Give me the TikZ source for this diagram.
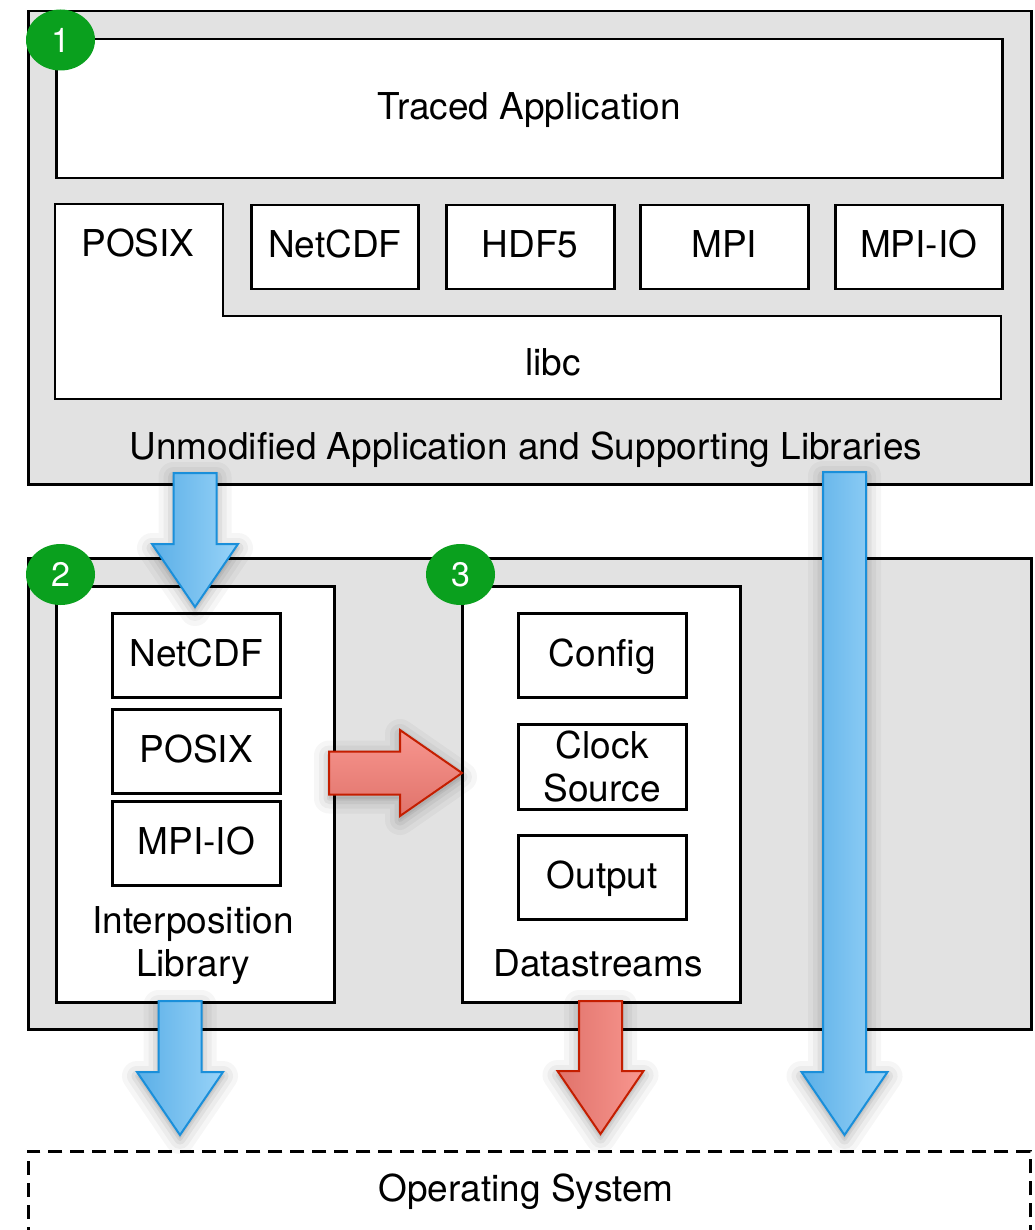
\documentclass[tikz,border=0pt]{standalone}
\usepackage{fontspec}
\setmainfont{TeX Gyre Heros}
\usetikzlibrary{calc,shapes.geometric}

\definecolor{panelgray}{HTML}{E2E2E2}
\definecolor{badgegreen}{HTML}{0AA01E}
\definecolor{blueedge}{HTML}{1A8FDA}
\definecolor{bluedark}{HTML}{5BAFE7}
\definecolor{bluelight}{HTML}{98D3F8}
\definecolor{rededge}{HTML}{C41E00}
\definecolor{reddark}{HTML}{E0736B}
\definecolor{redlight}{HTML}{F8968F}

% fat arrow dimensions: shaft half width, head half width, head length
\def\sh{21.5pt}
\def\hh{43pt}
\def\hl{63pt}

% downward block arrow from coordinate #2 to tip #3
\newcommand\fatdown[3]{%
  \path[#1] let \p1=(#2), \p2=(#3) in
    (\x1-\sh,\y1) -- (\x1+\sh,\y1) -- (\x1+\sh,\y2+\hl) -- (\x1+\hh,\y2+\hl)
    -- (\x1,\y2) -- (\x1-\hh,\y2+\hl) -- (\x1-\sh,\y2+\hl) -- cycle;}
% rightward block arrow from coordinate #2 to tip #3
\newcommand\fatright[3]{%
  \path[#1] let \p1=(#2), \p2=(#3) in
    (\x1,\y1+\sh) -- (\x2-\hl+1pt,\y1+\sh) -- (\x2-\hl+1pt,\y1+\hh) -- (\x2,\y1)
    -- (\x2-\hl+1pt,\y1-\hh) -- (\x2-\hl+1pt,\y1-\sh) -- (\x1,\y1-\sh) -- cycle;}

\begin{document}
\begin{tikzpicture}[x=1pt,y=-1pt,
  every node/.style={font=\fontsize{37}{43}\selectfont, align=center, inner sep=0pt},
  line1/.style={text height=26.5pt, text depth=5pt},
  panel/.style={draw=black, line width=2.5pt, fill=panelgray, anchor=north west},
  box/.style={draw=black, line width=2.5pt, fill=white, anchor=north west, line1},
  frame/.style={draw=black, line width=2.5pt, fill=white, anchor=north west},
  badge/.style={ellipse, fill=badgegreen, text=white, minimum width=69pt,
                minimum height=61pt, font=\fontsize{34}{40}\selectfont},
  shadowring/.style={preaction={draw=black, draw opacity=#1, fill=none,
                line join=round, transform canvas={yshift=-4pt}}},
  arrowshadow/.style={
    preaction={draw=black, draw opacity=0.035, line width=30pt, line join=round,
               transform canvas={yshift=-4pt}},
    preaction={draw=black, draw opacity=0.04, line width=20pt, line join=round,
               transform canvas={yshift=-4pt}},
    preaction={draw=black, draw opacity=0.05, line width=11pt, line join=round,
               transform canvas={yshift=-4pt}},
    preaction={fill=black, fill opacity=0.06, draw=black, draw opacity=0.06,
               line width=4pt, line join=round, transform canvas={yshift=-4pt}}},
  bluearrow/.style={arrowshadow, draw=blueedge, line width=2pt, line join=miter,
                left color=bluedark, right color=bluelight},
  redarrowdown/.style={arrowshadow, draw=rededge, line width=2pt, line join=miter,
                left color=reddark, right color=redlight},
  redarrowright/.style={arrowshadow, draw=rededge, line width=2pt, line join=miter,
                top color=redlight, bottom color=reddark},
  osbox/.style={draw=black, line width=2.5pt, dash pattern=on 14pt off 8pt, anchor=north west}]

\useasboundingbox (0,0) rectangle (1034,1230);
\fill[white] (0,0) rectangle (1034,1230);
\clip (0,0) rectangle (1034,1230);

% ---- layer 1: application and its libraries ----
\node[panel, minimum width=1003pt, minimum height=473pt] (top) at (27,10) {};
\node[line1] (toplbl) at (526,449) {Unmodified Application and Supporting Libraries};
\node[box, minimum width=946pt, minimum height=139pt] (app) at (55,38) {Traced Application};
\draw[line width=2.5pt, fill=white] (55,204) -- (223,204) -- (223,316) -- (1001,316)
  -- (1001,399) -- (55,399) -- cycle;
\node[line1] (posix) at (138,246) {POSIX};
\node[line1] (libc) at (553,365) {libc};
\node[box, minimum width=167pt, minimum height=84pt] (netcdf) at (250,204) {NetCDF};
\node[box, minimum width=168pt, minimum height=84pt] (hdf) at (445,204) {HDF5};
\node[box, minimum width=168pt, minimum height=84pt] (mpi) at (639,204) {MPI};
\node[box, minimum width=167pt, minimum height=84pt] (mpiio) at (834,204) {MPI-IO};

% ---- layer 2: interposition library and datastreams ----
\node[panel, minimum width=1003pt, minimum height=471pt] (mid) at (27,557) {};
\node[frame, minimum width=278pt, minimum height=416pt] (interp) at (55,585) {};
\node[box, minimum width=168pt, minimum height=84pt] (inetcdf) at (111,612) {NetCDF};
\node[box, minimum width=168pt, minimum height=84pt] (iposix) at (111,708) {POSIX};
\node[box, minimum width=168pt, minimum height=84pt] (impiio) at (111,800) {MPI-IO};
\node (interplbl) at (193,946) {Interposition\\Library};

\node[frame, minimum width=278pt, minimum height=416pt] (ds) at (461,585) {};
\node[box, minimum width=168pt, minimum height=84pt] (config) at (517,612) {Config};
\node[frame, minimum width=168pt, minimum height=85pt] (clock) at (517,723) {Clock\\Source};
\node[line1] (dslbl) at (598,966) {Datastreams};
\node[box, minimum width=168pt, minimum height=84pt] (output) at (517,834) {Output};

% ---- operating system ----
\node[osbox, minimum width=1002pt, minimum height=120pt] (os) at (27,1150) {};
\node[line1] (oslbl) at (526,1191) {Operating System};

% ---- numbered badges ----
\node[badge] (b1) at (60.5,40) {1};
\node[badge] (b2) at (60.5,574.5) {2};
\node[badge] (b3) at (460.5,574.5) {3};

% ---- data flow arrows ----
\coordinate (a1s) at (195,473);
\coordinate (a1t) at (195,607);
\coordinate (a2s) at (180,1001);
\coordinate (a2t) at (180,1135);
\coordinate (a3s) at (600.5,1001);
\coordinate (a3t) at (600.5,1134);
\coordinate (a4s) at (844.5,472);
\coordinate (a4t) at (844.5,1135);
\coordinate (a5s) at (329,773);
\coordinate (a5t) at (462,773);

\fatdown{bluearrow}{a1s}{a1t}
\fatdown{bluearrow}{a2s}{a2t}
\fatdown{redarrowdown}{a3s}{a3t}
\fatdown{bluearrow}{a4s}{a4t}
\fatright{redarrowright}{a5s}{a5t}
\end{tikzpicture}
\end{document}
